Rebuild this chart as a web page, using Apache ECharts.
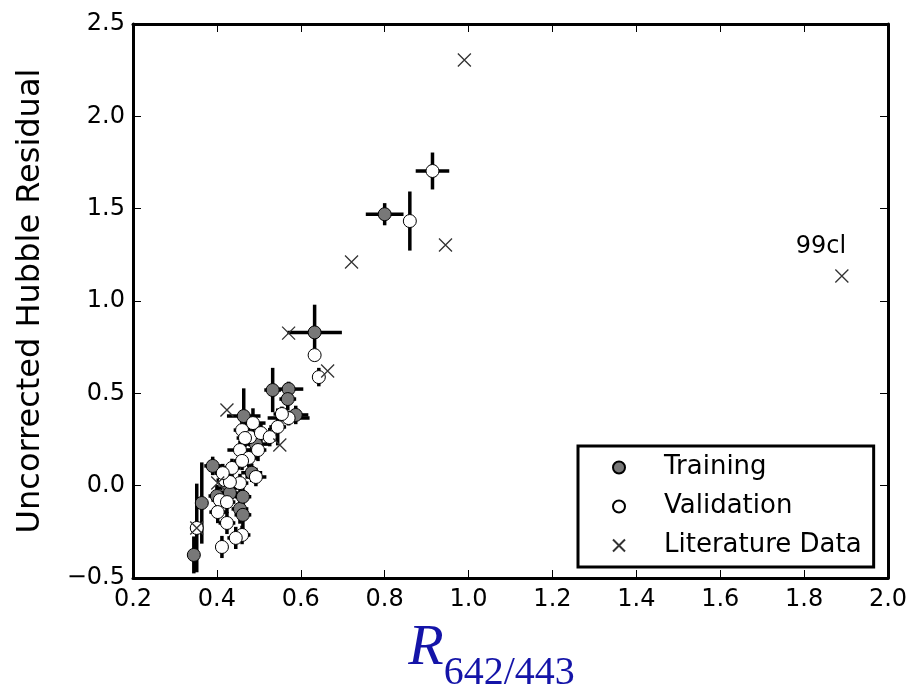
<!DOCTYPE html>
<html><head><meta charset="utf-8">
<script src="https://cdn.jsdelivr.net/npm/echarts@6/dist/echarts.min.js"></script>
<style>html,body{margin:0;padding:0;background:#fff}#c{width:919px;height:688px}</style>
</head><body><div id="c"></div>
<script>
// ---- data ----
const trainingX    = [0.800, 0.633, 0.533, 0.571, 0.569, 0.464, 0.588, 0.493, 0.390, 0.400, 0.426, 0.431, 0.364, 0.455, 0.462, 0.483, 0.462, 0.345];
const trainingY    = [1.470, 0.830, 0.518, 0.523, 0.469, 0.377, 0.383, 0.225, 0.107, -0.056, -0.013, -0.040, -0.094, -0.126, -0.158, 0.070, -0.060, -0.375];
const trainingXErr = [0.045, 0.065, 0.020, 0.035, 0.020, 0.040, 0.030, 0.030, 0.020, 0.020, 0.025, 0.020, 0.015, 0.020, 0.020, 0.025, 0.020, 0.015];
const trainingYErr = [0.060, 0.150, 0.120, 0.040, 0.060, 0.150, 0.050, 0.060, 0.050, 0.060, 0.050, 0.060, 0.220, 0.080, 0.080, 0.050, 0.060, 0.100];

const validationX    = [0.914, 0.860, 0.633, 0.643, 0.571, 0.555, 0.545, 0.486, 0.460, 0.479, 0.467, 0.505, 0.526, 0.455, 0.476, 0.498, 0.436, 0.460, 0.493, 0.455, 0.419, 0.407, 0.424, 0.402, 0.424, 0.460, 0.445, 0.412, 0.352, 0.431, 0.414];
const validationY    = [1.704, 1.433, 0.707, 0.588, 0.366, 0.388, 0.318, 0.339, 0.301, 0.263, 0.258, 0.285, 0.263, 0.193, 0.150, 0.193, 0.096, 0.134, 0.047, 0.014, 0.030, -0.078, -0.089, -0.143, -0.202, -0.267, -0.283, -0.332, -0.229, 0.020, 0.068];
const validationXErr = [0.040, 0.010, 0.010, 0.015, 0.050, 0.020, 0.020, 0.030, 0.020, 0.020, 0.020, 0.020, 0.020, 0.030, 0.020, 0.020, 0.020, 0.020, 0.025, 0.020, 0.020, 0.020, 0.020, 0.020, 0.020, 0.020, 0.020, 0.015, 0.015, 0.020, 0.020];
const validationYErr = [0.100, 0.160, 0.030, 0.050, 0.040, 0.040, 0.100, 0.080, 0.060, 0.050, 0.050, 0.050, 0.050, 0.050, 0.050, 0.060, 0.050, 0.050, 0.050, 0.050, 0.050, 0.050, 0.060, 0.060, 0.060, 0.050, 0.060, 0.060, 0.240, 0.050, 0.050];

const literatureX = [0.990, 0.945, 0.721, 1.890, 0.571, 0.664, 0.424, 0.550, 0.352, 0.402];
const literatureY = [2.305, 1.303, 1.211, 1.135, 0.826, 0.621, 0.410, 0.220, -0.229, 0.014];
const literatureLabels = ['', '', '', '99cl', '', '', '', '', '', ''];

const xMin = 0.2, xMax = 2.0, xStep = 0.2;
const yMin = -0.5, yMax = 2.5, yStep = 0.5;
const yAxisTitle = 'Uncorrected Hubble Residual';
const seriesNames = ['Training', 'Validation', 'Literature Data'];

// ---- chart ----
const FONT = 'DejaVu Sans';
const crossPath = 'path://M0,0L10,10M10,0L0,10';
const fmt = v => v.toFixed(1).replace('-', '\u2212');

function errSeries(xs, ys, xe, ye) {
  return {
    type: 'custom', silent: true, z: 1,
    encode: { x: 0, y: 1 },
    data: xs.map((x, i) => [x, ys[i], xe[i], ye[i]]),
    renderItem: (params, api) => {
      const x = api.value(0), y = api.value(1), dx = api.value(2), dy = api.value(3);
      const a = api.coord([x - dx, y]), b = api.coord([x + dx, y]);
      const c = api.coord([x, y - dy]), d = api.coord([x, y + dy]);
      const st = { stroke: '#000', lineWidth: 3.5 };
      return { type: 'group', children: [
        { type: 'line', shape: { x1: a[0], y1: a[1], x2: b[0], y2: b[1] }, style: st },
        { type: 'line', shape: { x1: c[0], y1: c[1], x2: d[0], y2: d[1] }, style: st }
      ]};
    }
  };
}

const axisCommon = {
  axisLine: { show: true, onZero: false, lineStyle: { color: '#000', width: 3 } },
  axisTick: { show: true, inside: true, length: 8, lineStyle: { color: '#000', width: 1 } },
  splitLine: { show: false }
};

const chart = echarts.init(document.getElementById('c'), null, { renderer: 'canvas' });
chart.setOption({
  animation: false,
  backgroundColor: '#fff',
  grid: { left: 133, right: 31, top: 24, bottom: 110, containLabel: false, outerBoundsMode: 'none' },
  legend: {
    data: [
      { name: seriesNames[0], icon: 'circle' },
      { name: seriesNames[1], icon: 'circle' },
      { name: seriesNames[2], icon: crossPath }
    ],
    orient: 'vertical', left: 578, top: 446,
    itemWidth: 12, itemHeight: 12, itemGap: 12,
    padding: [8, 12, 8, 34],
    backgroundColor: '#fff', borderColor: '#000', borderWidth: 3,
    textStyle: { fontFamily: FONT, fontSize: 26, color: '#000', lineHeight: 27, padding: [0, 0, 0, 34] }
  },
  xAxis: [
    Object.assign({}, axisCommon, {
      type: 'value', position: 'bottom', min: xMin, max: xMax, interval: xStep,
      axisLabel: { fontFamily: FONT, fontSize: 24, color: '#000', margin: 10, formatter: fmt },
      name: '{r|R}{s|642/443}', nameLocation: 'middle', nameGap: 42,
      nameTextStyle: {
        padding: [0, 38, 0, 0],
        rich: {
          r: { fontFamily: 'Liberation Serif', fontStyle: 'italic', fontSize: 58, color: '#1414a8', lineHeight: 60, verticalAlign: 'top' },
          s: { fontFamily: 'Liberation Serif', fontSize: 40, color: '#1414a8', lineHeight: 73, verticalAlign: 'bottom' }
        }
      }
    }),
    Object.assign({}, axisCommon, {
      type: 'value', position: 'top', min: xMin, max: xMax, interval: xStep,
      axisLabel: { show: false }
    })
  ],
  yAxis: [
    Object.assign({}, axisCommon, {
      type: 'value', position: 'left', min: yMin, max: yMax, interval: yStep,
      axisLabel: { fontFamily: FONT, fontSize: 24, color: '#000', margin: 8, formatter: fmt },
      name: yAxisTitle, nameLocation: 'middle', nameGap: 86,
      nameTextStyle: { fontFamily: FONT, fontSize: 32, color: '#000' }
    }),
    Object.assign({}, axisCommon, {
      type: 'value', position: 'right', min: yMin, max: yMax, interval: yStep,
      axisLabel: { show: false }
    })
  ],
  series: [
    errSeries(trainingX, trainingY, trainingXErr, trainingYErr),
    errSeries(validationX, validationY, validationXErr, validationYErr),
    {
      name: seriesNames[0], type: 'scatter', z: 3, symbol: 'circle', symbolSize: 13,
      itemStyle: { color: '#787878', borderColor: '#000', borderWidth: 1, opacity: 1 },
      data: trainingX.map((x, i) => [x, trainingY[i]])
    },
    {
      name: seriesNames[1], type: 'scatter', z: 4, symbol: 'circle', symbolSize: 13,
      itemStyle: { color: '#fff', borderColor: '#000', borderWidth: 1, opacity: 1 },
      data: validationX.map((x, i) => [x, validationY[i]])
    },
    {
      name: seriesNames[2], type: 'scatter', z: 5, symbol: crossPath, symbolSize: 13,
      itemStyle: { color: 'rgba(0,0,0,0)', borderColor: '#333', borderWidth: 1.3, opacity: 1 },
      label: {
        show: true, position: 'top', distance: 10, offset: [-21, 0],
        fontFamily: FONT, fontSize: 24, color: '#000',
        formatter: p => literatureLabels[p.dataIndex]
      },
      data: literatureX.map((x, i) => [x, literatureY[i]])
    }
  ]
});
</script>
</body></html>
